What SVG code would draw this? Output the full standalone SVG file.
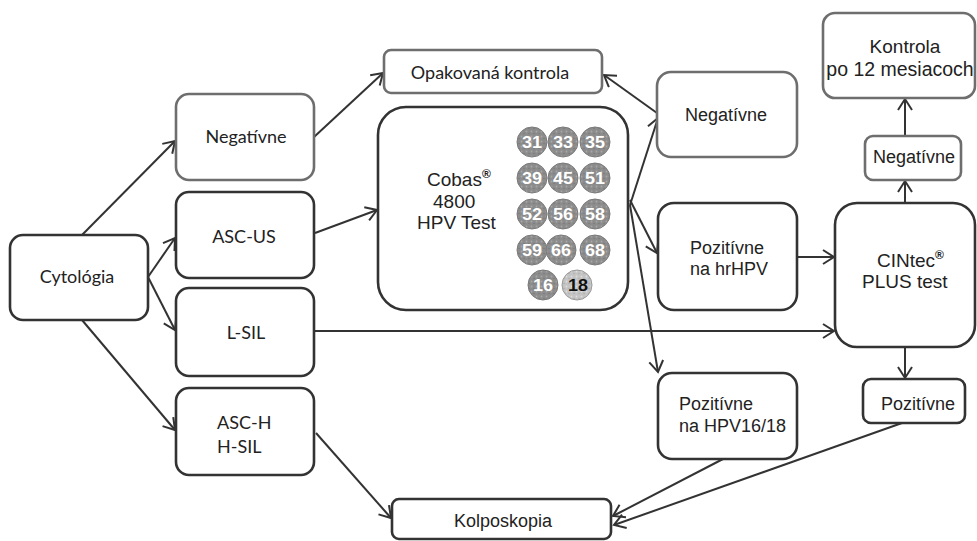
<svg xmlns="http://www.w3.org/2000/svg" width="977" height="541" viewBox="0 0 977 541">
<defs>
<marker id="arr" markerUnits="userSpaceOnUse" markerWidth="14" markerHeight="16" refX="12" refY="8" orient="auto">
<path d="M1,1 L12,8 L1,15" fill="none" stroke="#333" stroke-width="2"/>
</marker>
<pattern id="tex" width="5" height="5" patternUnits="userSpaceOnUse">
<rect width="5" height="5" fill="#8c8c8c"/>
<circle cx="1.5" cy="1.5" r="0.9" fill="#a8a8a8"/>
<circle cx="4" cy="3.5" r="0.7" fill="#767676"/>
</pattern>
<pattern id="tex2" width="5" height="5" patternUnits="userSpaceOnUse">
<rect width="5" height="5" fill="#c4c4c4"/>
<circle cx="1.5" cy="1.5" r="0.9" fill="#dedede"/>
<circle cx="4" cy="3.5" r="0.7" fill="#a8a8a8"/>
</pattern>
</defs>
<style>
.dk{fill:#fff;stroke:#333;stroke-width:2.6}
.gr{fill:#fff;stroke:#6e6e6e;stroke-width:2.6}
.cal{font-family:Lato,"Open Sans",sans-serif;font-size:18px;fill:#222}
.ar{font-family:"Liberation Sans",Arial,sans-serif;font-size:18px;fill:#222}
.c{fill:url(#tex);stroke:#7a7a7a;stroke-width:1}
.n{font-family:"Liberation Sans",Arial,sans-serif;font-size:16px;font-weight:bold;fill:#fff;text-anchor:middle}
.ln{fill:none;stroke:#333;stroke-width:2;marker-end:url(#arr)}
.mid{text-anchor:middle}
.reg{font-size:12px;font-weight:bold}
</style>
<rect width="977" height="541" fill="#fff"/>

<g id="connectors">
<line class="ln" x1="82" y1="235" x2="175" y2="141"/>
<line class="ln" x1="148" y1="277" x2="175" y2="238"/>
<line class="ln" x1="148" y1="277" x2="175" y2="330"/>
<line class="ln" x1="82" y1="320" x2="175" y2="430"/>
<line class="ln" x1="314" y1="137" x2="383" y2="73"/>
<line class="ln" x1="315" y1="233" x2="377" y2="210"/>
<line class="ln" x1="630" y1="205" x2="658" y2="118"/>
<line class="ln" x1="630" y1="200" x2="657" y2="253"/>
<line class="ln" x1="630" y1="205" x2="658" y2="372"/>
<line class="ln" x1="657" y1="113" x2="604" y2="75"/>
<line class="ln" x1="797" y1="257" x2="834" y2="257"/>
<line class="ln" x1="314" y1="331" x2="834" y2="331"/>
<line class="ln" x1="905" y1="203" x2="905" y2="181"/>
<line class="ln" x1="905" y1="136" x2="905" y2="99"/>
<line class="ln" x1="905" y1="347" x2="905" y2="378"/>
<line class="ln" x1="723" y1="459" x2="613" y2="516"/>
<line class="ln" x1="902" y1="423" x2="614" y2="525"/>
<line class="ln" x1="316" y1="433" x2="391" y2="518"/>
</g>

<g id="cytologia">
<rect class="dk" x="10" y="235" width="138" height="85" rx="13"/>
<text class="cal mid" x="77" y="283">Cytológia</text>
</g>
<g id="negativne-left">
<rect class="gr" x="176" y="94" width="138" height="86" rx="13"/>
<text class="cal mid" x="246" y="143">Negatívne</text>
</g>
<g id="asc-us">
<rect class="dk" x="176" y="192" width="138" height="86" rx="13"/>
<text class="cal mid" x="244" y="243">ASC-US</text>
</g>
<g id="l-sil">
<rect class="dk" x="176" y="288" width="138" height="88" rx="13"/>
<text class="cal mid" x="246" y="339">L-SIL</text>
</g>
<g id="asc-h">
<rect class="dk" x="176" y="388" width="138" height="87" rx="13"/>
<text class="cal" x="217" y="429">ASC-H</text>
<text class="cal" x="217" y="453">H-SIL</text>
</g>
<g id="opakovana">
<rect class="gr" x="384" y="50" width="218" height="43" rx="7"/>
<text class="cal mid" x="490" y="79">Opakovaná kontrola</text>
</g>
<g id="cobas">
<rect class="dk" x="378" y="107" width="250" height="203" rx="28"/>
<text class="ar" x="427" y="186" style="font-size:19px">Cobas<tspan class="reg" dy="-8">®</tspan></text>
<text class="ar" x="433" y="208" style="font-size:19px">4800</text>
<text class="ar" x="417" y="229" style="font-size:19px">HPV Test</text>
<circle class="c" cx="532" cy="142" r="15"/><circle class="c" cx="563" cy="142" r="15"/><circle class="c" cx="595" cy="142" r="15"/>
<circle class="c" cx="532" cy="178" r="15"/><circle class="c" cx="563" cy="178" r="15"/><circle class="c" cx="595" cy="178" r="15"/>
<circle class="c" cx="532" cy="214" r="15"/><circle class="c" cx="563" cy="214" r="15"/><circle class="c" cx="595" cy="214" r="15"/>
<circle class="c" cx="532" cy="250" r="15"/><circle class="c" cx="561" cy="250" r="15"/><circle class="c" cx="595" cy="250" r="15"/>
<circle class="c" cx="543" cy="285" r="15"/><circle cx="577" cy="285" r="15" fill="url(#tex2)" stroke="#999" stroke-width="1"/>
<g class="n">
<text x="532" y="148" textLength="20" lengthAdjust="spacingAndGlyphs">31</text><text x="563" y="148" textLength="20" lengthAdjust="spacingAndGlyphs">33</text><text x="595" y="148" textLength="20" lengthAdjust="spacingAndGlyphs">35</text>
<text x="532" y="184" textLength="20" lengthAdjust="spacingAndGlyphs">39</text><text x="563" y="184" textLength="20" lengthAdjust="spacingAndGlyphs">45</text><text x="595" y="184" textLength="20" lengthAdjust="spacingAndGlyphs">51</text>
<text x="532" y="220" textLength="20" lengthAdjust="spacingAndGlyphs">52</text><text x="563" y="220" textLength="20" lengthAdjust="spacingAndGlyphs">56</text><text x="595" y="220" textLength="20" lengthAdjust="spacingAndGlyphs">58</text>
<text x="532" y="256" textLength="20" lengthAdjust="spacingAndGlyphs">59</text><text x="561" y="256" textLength="20" lengthAdjust="spacingAndGlyphs">66</text><text x="595" y="256" textLength="20" lengthAdjust="spacingAndGlyphs">68</text>
<text x="543" y="291" textLength="20" lengthAdjust="spacingAndGlyphs">16</text><text x="578" y="291" textLength="20" lengthAdjust="spacingAndGlyphs" style="fill:#111">18</text>
</g>
</g>
<g id="negativne-mid">
<rect class="gr" x="657" y="72" width="140" height="85" rx="14"/>
<text class="ar mid" x="726" y="121">Negatívne</text>
</g>
<g id="pozitivne-hrhpv">
<rect class="dk" x="658" y="203" width="139" height="107" rx="16"/>
<text class="ar" x="690" y="254">Pozitívne</text>
<text class="ar" x="690" y="275">na hrHPV</text>
</g>
<g id="pozitivne-hpv1618">
<rect class="dk" x="658" y="373" width="139" height="86" rx="14"/>
<text class="ar" x="679" y="410">Pozitívne</text>
<text class="ar" x="679" y="432">na HPV16/18</text>
</g>
<g id="kontrola">
<rect class="gr" x="823" y="13" width="152" height="85" rx="12"/>
<text class="ar mid" x="905" y="53" style="font-size:19px">Kontrola</text>
<text class="ar mid" x="900" y="76" style="font-size:19.5px">po 12 mesiacoch</text>
</g>
<g id="negativne-small">
<rect class="gr" x="865" y="136" width="96" height="44" rx="8"/>
<text class="ar mid" x="914" y="163">Negatívne</text>
</g>
<g id="cintec">
<rect class="dk" x="835" y="203" width="140" height="144" rx="22"/>
<text class="ar" x="877" y="267" style="font-size:19px">CINtec<tspan class="reg" dy="-8">®</tspan></text>
<text class="ar" x="862" y="288" style="font-size:19px">PLUS test</text>
</g>
<g id="pozitivne-right">
<rect class="dk" x="863" y="379" width="102" height="44" rx="8"/>
<text class="ar mid" x="918" y="410">Pozitívne</text>
</g>
<g id="kolposkopia">
<rect class="dk" x="392" y="499" width="219" height="40" rx="7"/>
<text class="ar mid" x="503" y="527">Kolposkopia</text>
</g>
</svg>
